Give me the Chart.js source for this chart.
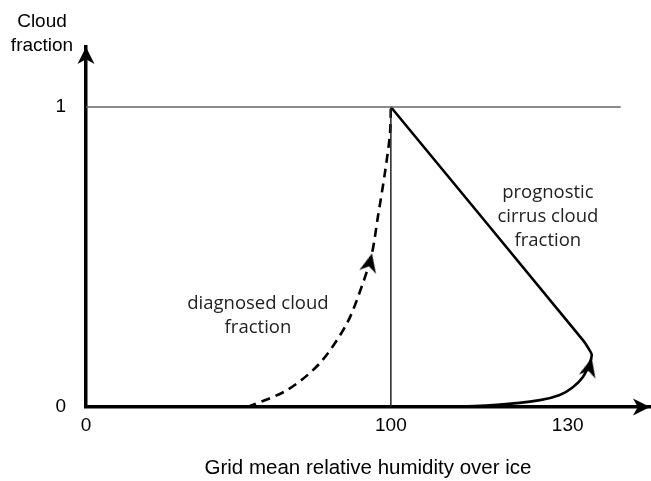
<!DOCTYPE html>
<html>
<head>
<meta charset="utf-8">
<script src="https://cdn.jsdelivr.net/npm/chart.js@4"></script>
<style>
  html, body { margin: 0; padding: 0; background: #fff; }
  #chart { display: block; }
</style>
</head>
<body>
<canvas id="chart" width="651" height="481"></canvas>
<script>
// schematic axis: 130 sits further right than a linear scale would put it
const xTickPos = [0, 100, 158];
const xTickLabels = ['0', '100', '130'];
const yTickPos = [0, 1];
const yTickLabels = ['0', '1'];

// diagnosed cloud fraction (dashed)
const diagX = [53, 65.9, 76.7, 85.6, 90.8, 93.8, 95.7, 98.0, 99.7, 100];
const diagY = [0, 0.056, 0.146, 0.279, 0.412, 0.512, 0.631, 0.777, 0.910, 1];

// prognostic cirrus cloud fraction (solid), from 100 along the bottom, round the turn, back to 1
const progX = [100, 118.4, 134.8, 148.9, 155.4, 159.7, 163.0, 165.2, 165.9, 165.2, 163.0, 100];
const progY = [0, 0, 0.007, 0.023, 0.040, 0.066, 0.100, 0.146, 0.173, 0.189, 0.223, 1];

// arrowheads on the curves: [x, y, direction in degrees]
const curveArrows = [[93.8, 0.512, 13], [165.9, 0.163, 14]];

const xMax = 185;
const yMax = 1.2;

function makeArrow(len, wide, notch) {
  const c = document.createElement('canvas');
  c.width = len * 2;
  c.height = len * 2;
  const g = c.getContext('2d');
  g.fillStyle = '#000';
  g.beginPath();
  g.moveTo(len, len);
  g.lineTo(len + wide / 2, len * 2);
  g.lineTo(len, len * (2 - notch));
  g.lineTo(len - wide / 2, len * 2);
  g.closePath();
  g.fill();
  return c;
}

const axisArrow = makeArrow(17, 17, 0.28);
const curveArrow = makeArrow(19, 17, 0.3);

const toPoints = (xs, ys) => xs.map((x, i) => ({ x: x, y: ys[i] }));

const textPlugin = {
  id: 'texts',
  afterDraw(chart) {
    const ctx = chart.ctx;
    const xs = chart.scales.x;
    const ys = chart.scales.y;
    ctx.save();
    ctx.textAlign = 'center';
    ctx.textBaseline = 'middle';

    ctx.fillStyle = '#000';
    ctx.font = '19px "Liberation Sans", Arial, sans-serif';
    ctx.fillText('Cloud', 42, 22);
    ctx.fillText('fraction', 42, 46);

    ctx.fillStyle = '#222';
    ctx.font = '18.5px "Open Sans", sans-serif';
    let cx = xs.getPixelForValue(56.4);
    let cy = ys.getPixelForValue(0.345);
    ctx.fillText('diagnosed cloud', cx, cy);
    ctx.fillText('fraction', cx, cy + 24);

    cx = xs.getPixelForValue(151.5);
    cy = ys.getPixelForValue(0.714);
    ctx.fillText('prognostic', cx, cy);
    ctx.fillText('cirrus cloud', cx, cy + 24);
    ctx.fillText('fraction', cx, cy + 48);
    ctx.restore();
  }
};

new Chart(document.getElementById('chart'), {
  type: 'scatter',
  data: {
    datasets: [
      {
        data: [{ x: 0, y: 1 }, { x: 175.4, y: 1 }],
        showLine: true, borderColor: '#666', borderWidth: 1.6, pointRadius: 0
      },
      {
        data: [{ x: 100, y: 0 }, { x: 100, y: 1 }],
        showLine: true, borderColor: '#222', borderWidth: 1.5, pointRadius: 0
      },
      {
        data: toPoints(diagX, diagY),
        showLine: true, borderColor: '#000', borderWidth: 2.6, borderDash: [9, 6],
        tension: 0.3, pointRadius: 0
      },
      {
        data: toPoints(progX, progY),
        showLine: true, borderColor: '#000', borderWidth: 2.6,
        tension: 0.25, pointRadius: 0
      },
      {
        data: curveArrows.map(a => ({ x: a[0], y: a[1] })),
        pointStyle: curveArrow, rotation: curveArrows.map(a => a[2]),
        pointRadius: 9, clip: false
      },
      {
        data: [{ x: 0, y: yMax }, { x: xMax, y: 0 }],
        pointStyle: axisArrow, rotation: [0, 90],
        pointRadius: 9, clip: false
      }
    ]
  },
  options: {
    responsive: false,
    animation: false,
    devicePixelRatio: 1,
    layout: { autoPadding: false, padding: { left: 0, right: 1, top: 47, bottom: 0 } },
    plugins: {
      legend: { display: false },
      tooltip: { enabled: false }
    },
    scales: {
      x: {
        type: 'linear',
        min: 0,
        max: xMax,
        afterFit: scale => { scale.height = 74; },
        afterBuildTicks: scale => { scale.ticks = xTickPos.map(v => ({ value: v })); },
        ticks: {
          padding: 7,
          color: '#000',
          font: { family: '"Liberation Sans", Arial, sans-serif', size: 19 },
          callback: value => xTickLabels[xTickPos.indexOf(value)]
        },
        grid: { display: true, drawOnChartArea: false, drawTicks: false, color: 'rgba(0,0,0,0)' },
        border: { display: true, color: '#000', width: 3.5 },
        title: {
          display: true,
          text: 'Grid mean relative humidity over ice',
          color: '#000',
          font: { family: '"Liberation Sans", Arial, sans-serif', size: 20.5 },
          padding: { top: 0, bottom: 0 }
        }
      },
      y: {
        type: 'linear',
        min: 0,
        max: yMax,
        afterFit: scale => { scale.width = 86; },
        afterBuildTicks: scale => { scale.ticks = yTickPos.map(v => ({ value: v })); },
        ticks: {
          padding: 20,
          color: '#000',
          font: { family: '"Liberation Sans", Arial, sans-serif', size: 19 },
          callback: value => yTickLabels[yTickPos.indexOf(value)]
        },
        grid: { display: true, drawOnChartArea: false, drawTicks: false, color: 'rgba(0,0,0,0)' },
        border: { display: true, color: '#000', width: 3.5 }
      }
    }
  },
  plugins: [textPlugin]
});
</script>
</body>
</html>
